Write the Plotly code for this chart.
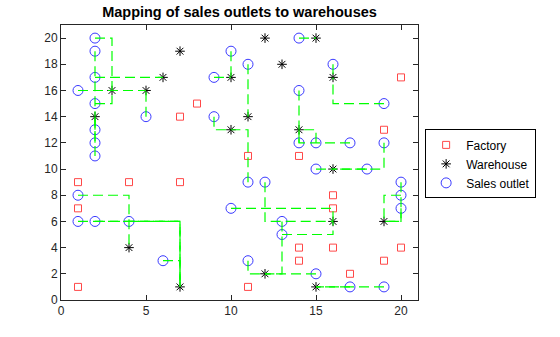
import plotly.graph_objects as go

# ---- data ----
factory_x = [1, 1, 1, 4, 7, 7, 8, 11, 14, 20, 19, 16, 16, 14, 16, 20, 14, 19, 17, 11]
factory_y = [1, 7, 9, 9, 9, 14, 15, 11, 11, 17, 13, 8, 7, 4, 4, 4, 3, 3, 2, 1]

warehouse_x = [2, 3, 5, 6, 7, 10, 10, 11, 12, 13, 14, 15, 16, 16, 16, 19, 12, 15, 4, 7]
warehouse_y = [14, 16, 16, 17, 19, 17, 13, 14, 20, 18, 13, 20, 17, 10, 6, 6, 2, 1, 4, 1]

outlet_x = [2, 2, 2, 1, 2, 2, 2, 2, 5, 9, 9, 10, 11, 14, 16, 14, 19, 14, 15, 17,
            19, 1, 1, 2, 4, 6, 10, 11, 12, 15, 18, 20, 20, 20, 13, 13, 11, 15, 17, 19]
outlet_y = [20, 19, 17, 16, 15, 13, 12, 11, 14, 17, 14, 19, 18, 20, 18, 16, 15, 12, 12, 12,
            12, 8, 6, 6, 6, 3, 7, 9, 9, 10, 10, 9, 8, 7, 6, 5, 3, 2, 1, 1]
# index of the warehouse each sales outlet is mapped to
outlet_warehouse = [1, 0, 3, 2, 1, 0, 0, 0, 2, 5, 6, 5, 7, 11, 12, 10, 12, 10, 10, 10,
                    13, 18, 19, 19, 19, 19, 14, 6, 14, 13, 13, 15, 15, 15, 16, 14, 16, 16, 17, 17]
# which direction the path is drawn first from the outlet
outlet_first = ['x', 'y', 'x', 'x', 'x', 'y', 'y', 'y', 'y', 'x', 'y', 'y', 'y', 'x', 'y', 'y', 'x', 'y', 'y', 'x',
                'y', 'x', 'x', 'x', 'x', 'x', 'x', 'y', 'y', 'x', 'x', 'y', 'x', 'y', 'y', 'x', 'y', 'x', 'x', 'x']

legend_names = ['Factory', 'Warehouse', 'Sales outlet']

FONT = 'Liberation Sans, Arial, sans-serif'
AX = '#262626'

fig = go.Figure()

fig.add_trace(go.Scatter(
    x=factory_x, y=factory_y, mode='markers', name=legend_names[0],
    marker=dict(symbol='square-open', size=7, color='#ff4848', line=dict(width=1, color='#ff4848'))))
fig.add_trace(go.Scatter(
    x=warehouse_x, y=warehouse_y, mode='markers', name=legend_names[1],
    marker=dict(symbol='asterisk-open', size=8, color='black', line=dict(width=1, color='black'))))
fig.add_trace(go.Scatter(
    x=outlet_x, y=outlet_y, mode='markers', name=legend_names[2],
    marker=dict(symbol='circle-open', size=10, color='#3a3aff', line=dict(width=1, color='#3a3aff'))))

for i in range(len(outlet_x)):
    xs, ys = outlet_x[i], outlet_y[i]
    w = outlet_warehouse[i]
    xw, yw = warehouse_x[w], warehouse_y[w]
    if outlet_first[i] == 'y':
        px, py = [xs, xs, xw], [ys, yw, yw]
    else:
        px, py = [xs, xw, xw], [ys, ys, yw]
    fig.add_trace(go.Scatter(
        x=px, y=py, mode='lines', showlegend=False, hoverinfo='skip',
        line=dict(color='#00ff00', width=1.2, dash='10px,5px')))

axis_common = dict(
    range=[0, 21], showgrid=False, zeroline=False, showline=True, mirror='ticks',
    linecolor=AX, linewidth=1, ticks='inside', ticklen=5, tickcolor=AX, tickwidth=1,
    tickfont=dict(family=FONT, size=12, color=AX))

fig.update_layout(
    width=560, height=337, autosize=False,
    margin=dict(l=61, r=142, t=25, b=37, pad=0),
    paper_bgcolor='white', plot_bgcolor='white',
    font=dict(family=FONT, size=12, color=AX),
    title=dict(text='<b>Mapping of sales outlets to warehouses</b>', x=0.5, xref='paper',
               y=1 - 12 / 337, yref='container', xanchor='center', yanchor='middle',
               font=dict(family=FONT, size=14.5, color='black')),
    xaxis=dict(tickvals=[0, 5, 10, 15, 20], **axis_common),
    yaxis=dict(tickvals=list(range(0, 21, 2)), **axis_common),
    legend=dict(x=1.02, xanchor='left', y=0.495, yanchor='middle',
                bordercolor='black', borderwidth=1, bgcolor='white',
                font=dict(family=FONT, size=12, color='black'),
                itemwidth=30, tracegroupgap=0),
    showlegend=True,
)

fig.write_html('out.html')
